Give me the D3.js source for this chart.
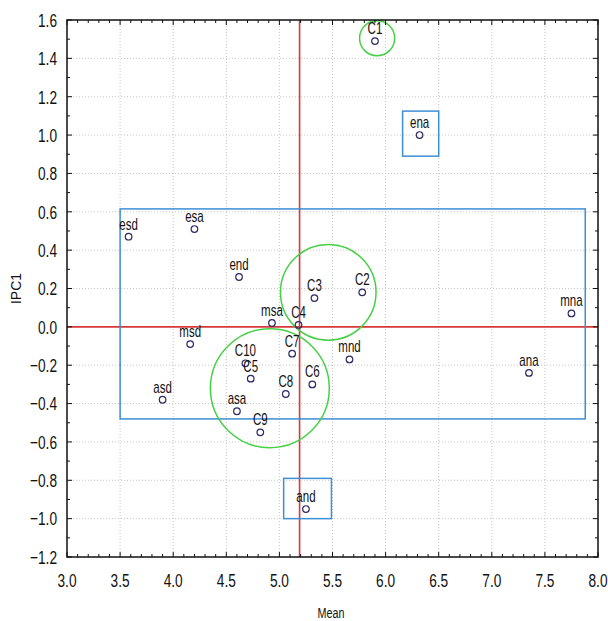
<!DOCTYPE html>
<html>
<head>
<meta charset="utf-8">
<script src="https://cdn.jsdelivr.net/npm/d3@7"></script>
<style>
  body { margin: 0; background: #fff; }
  svg text { font-family: "Liberation Sans", Arial, sans-serif; }
</style>
</head>
<body>
<svg id="chart" width="608" height="621"></svg>
<script>
// point data
var names   = ['C1','ena','esd','esa','end','C2','C3','msa','C4','mna','msd','C7','mnd','C10','C5','C6','ana','C8','asd','asa','C9','and']
var meanVal = [5.90,6.32,3.58,4.20,4.62,5.78,5.33,4.93,5.18,7.75,4.16,5.12,5.66,4.68,4.73,5.31,7.35,5.06,3.90,4.60,4.82,5.25]
var ipc1Val = [1.49,1.00,0.47,0.51,0.26,0.18,0.15,0.02,0.01,0.07,-0.09,-0.14,-0.17,-0.19,-0.27,-0.30,-0.24,-0.35,-0.38,-0.44,-0.55,-0.95]

// axis ticks
var xTicks = [3.0,3.5,4.0,4.5,5.0,5.5,6.0,6.5,7.0,7.5,8.0]
var yTicks = [-1.2,-1.0,-0.8,-0.6,-0.4,-0.2,0.0,0.2,0.4,0.6,0.8,1.0,1.2,1.4,1.6]

// reference lines
var refMean = 5.19
var refIpc = 0

// annotations (data units)
var boxX0 = [3.50,6.16,5.04]
var boxX1 = [7.88,6.50,5.49]
var boxY0 = [-0.48,0.89,-1.00]
var boxY1 = [0.615,1.125,-0.79]
var ringX = [5.92,5.46,4.91]
var ringY = [1.505,0.18,-0.32]
var ringR = [0.165,0.45,0.56]

var svg = d3.select('#chart')
var pL = 67, pR = 598, pT = 20, pB = 557

var x = d3.scaleLinear().domain([3,8]).range([pL,pR])
var y = d3.scaleLinear().domain([-1.2,1.6]).range([pB,pT])

// narrow look: squeeze text horizontally
function narrow(px, py){ return 'translate(' + px + ',' + py + ') scale(0.72,1)' }

// grid
svg.append('g').selectAll('line').data(xTicks.slice(1,-1)).enter().append('line')
  .attr('x1',function(d){return x(d)}).attr('x2',function(d){return x(d)})
  .attr('y1',pT).attr('y2',pB)
  .attr('stroke','#c4c4c4').attr('stroke-width',1).attr('stroke-dasharray','1,2')
svg.append('g').selectAll('line').data(yTicks.slice(1,-1)).enter().append('line')
  .attr('y1',function(d){return y(d)}).attr('y2',function(d){return y(d)})
  .attr('x1',pL).attr('x2',pR)
  .attr('stroke','#c4c4c4').attr('stroke-width',1).attr('stroke-dasharray','1,2')

// red reference lines
svg.append('line').attr('x1',x(refMean)).attr('x2',x(refMean)).attr('y1',pT).attr('y2',pB)
  .attr('stroke','#d8383a').attr('stroke-width',1.6)
svg.append('line').attr('x1',pL).attr('x2',pR).attr('y1',y(refIpc)).attr('y2',y(refIpc))
  .attr('stroke','#d8383a').attr('stroke-width',1.6)

// blue boxes
svg.append('g').selectAll('rect').data(boxX0).enter().append('rect')
  .attr('x',function(d){return x(d)})
  .attr('y',function(d,i){return y(boxY1[i])})
  .attr('width',function(d,i){return x(boxX1[i]) - x(d)})
  .attr('height',function(d,i){return y(boxY0[i]) - y(boxY1[i])})
  .attr('fill','none').attr('stroke','#3d8fd6').attr('stroke-width',1.5)

// green rings
svg.append('g').selectAll('circle').data(ringX).enter().append('circle')
  .attr('cx',function(d){return x(d)})
  .attr('cy',function(d,i){return y(ringY[i])})
  .attr('r',function(d,i){return x(d + ringR[i]) - x(d)})
  .attr('fill','none').attr('stroke','#46d046').attr('stroke-width',1.5)

// points + labels
var pts = svg.append('g').selectAll('g').data(names).enter().append('g')
  .attr('transform',function(d,i){return 'translate(' + x(meanVal[i]) + ',' + y(ipc1Val[i]) + ')'})
pts.append('circle').attr('r',3.3)
  .attr('fill','none').attr('stroke','#2c2c66').attr('stroke-width',1.2)
pts.append('text').attr('transform',narrow(0,-7)).attr('text-anchor','middle')
  .style('font-size','16px').attr('fill','#111')
  .text(function(d){return d})

// axes with inward ticks on every side
var xMinor = d3.range(30,81).map(function(v){return v/10})
var yMinor = d3.range(-12,17).map(function(v){return v/10})
var frame = svg.append('g').attr('stroke','#111')
frame.selectAll('.tb').data(xMinor).enter().append('line')
  .attr('x1',function(d){return x(d)}).attr('x2',function(d){return x(d)})
  .attr('y1',pB).attr('y2',function(d){return pB - (Math.round(d*10)%5==0 ? 5 : 3)})
frame.selectAll('.tt').data(xMinor).enter().append('line')
  .attr('x1',function(d){return x(d)}).attr('x2',function(d){return x(d)})
  .attr('y1',pT).attr('y2',function(d){return pT + (Math.round(d*10)%5==0 ? 5 : 3)})
frame.selectAll('.tl').data(yMinor).enter().append('line')
  .attr('y1',function(d){return y(d)}).attr('y2',function(d){return y(d)})
  .attr('x1',pL).attr('x2',function(d){return pL + (Math.round(d*10)%2==0 ? 5 : 3)})
frame.selectAll('.tr').data(yMinor).enter().append('line')
  .attr('y1',function(d){return y(d)}).attr('y2',function(d){return y(d)})
  .attr('x1',pR).attr('x2',function(d){return pR - (Math.round(d*10)%2==0 ? 5 : 3)})
svg.append('rect').attr('x',pL).attr('y',pT).attr('width',pR-pL).attr('height',pB-pT)
  .attr('fill','none').attr('stroke','#111').attr('stroke-width',1.5)

// tick labels
svg.append('g').selectAll('text').data(xTicks).enter().append('text')
  .attr('transform',function(d){return narrow(x(d),587)})
  .attr('text-anchor','middle').style('font-size','19px').attr('fill','#111')
  .text(function(d){return d3.format('.1f')(d)})
svg.append('g').selectAll('text').data(yTicks).enter().append('text')
  .attr('transform',function(d){return narrow(57,y(d))}).attr('dy','0.36em')
  .attr('text-anchor','end').style('font-size','19px').attr('fill','#111')
  .text(function(d){return d3.format('.1f')(d)})

// axis titles
svg.append('text').attr('transform',narrow(331,618)).attr('text-anchor','middle')
  .style('font-size','15px').attr('fill','#111').text('Mean')
svg.append('text').attr('transform','translate(21,' + ((pT+pB)/2) + ') rotate(-90)')
  .attr('text-anchor','middle').style('font-size','14px').attr('fill','#111').text('IPC1')
</script>
</body>
</html>
